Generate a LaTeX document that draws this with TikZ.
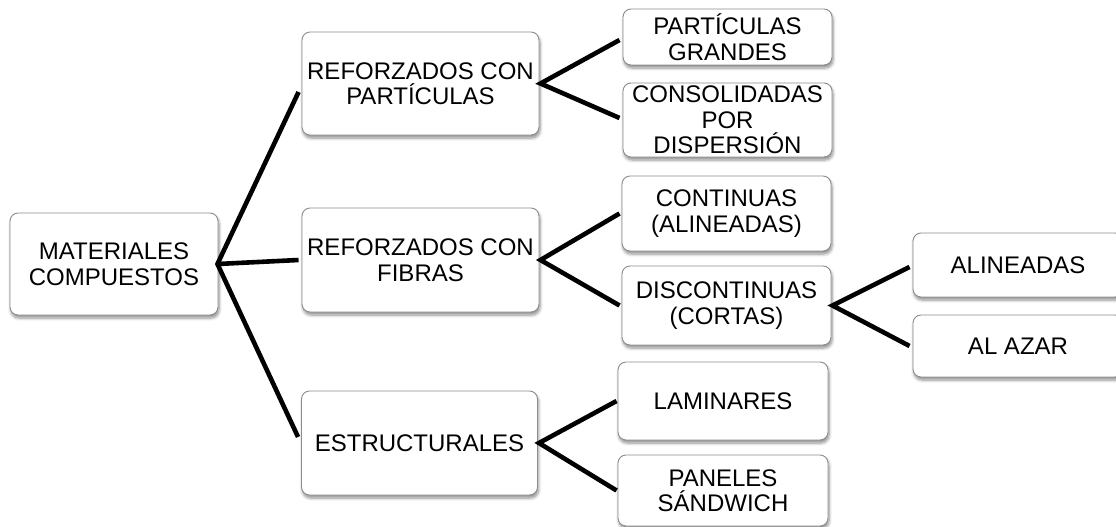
\documentclass[tikz,border=0pt]{standalone}
\usepackage{fontspec}
\setmainfont{Liberation Sans}
\usetikzlibrary{shadows.blur,calc}
\begin{document}
\begin{tikzpicture}[x=1pt,y=-1pt,
  box/.style={draw=black!45, line width=0.9pt, fill=white, rounded corners=8pt,
    align=center, inner sep=0pt, anchor=center,
    font=\fontsize{24}{25.5}\selectfont,
    blur shadow={shadow xshift=1pt, shadow yshift=-3pt, shadow blur radius=3pt, shadow blur steps=6, shadow opacity=45}},
  conn/.style={line width=4.6pt, black, line join=miter}]
\useasboundingbox (0,0) rectangle (1116,527);
\clip (0,0) rectangle (1116,527);
% level 0
\node[box, minimum width=208pt, minimum height=102pt] (b1) at (114,264) {MATERIALES\\COMPUESTOS};
% level 1
\node[box, minimum width=237pt, minimum height=103pt] (b2) at (420.5,83.5) {REFORZADOS CON\\PARTÍCULAS};
\node[box, minimum width=237pt, minimum height=104pt] (b3) at (420.5,260) {REFORZADOS CON\\FIBRAS};
\node[box, minimum width=236pt, minimum height=104pt] (b4) at (419.5,443) {ESTRUCTURALES};
% level 2
\node[box, minimum width=209pt, minimum height=56pt] (c1) at (727.5,37) {PARTÍCULAS\\GRANDES};
\node[box, minimum width=209pt, minimum height=74pt] (c2) at (727.5,120) {CONSOLIDADAS\\POR\\DISPERSIÓN};
\node[box, minimum width=209pt, minimum height=75pt] (c3) at (726.5,213.5) {CONTINUAS\\(ALINEADAS)};
\node[box, minimum width=209pt, minimum height=79pt] (c4) at (726.5,305.5) {DISCONTINUAS\\(CORTAS)};
\node[box, minimum width=210pt, minimum height=78pt] (c5) at (723,401) {LAMINARES};
\node[box, minimum width=210pt, minimum height=71pt] (c6) at (723,490.5) {PANELES\\SÁNDWICH};
% level 3
\node[box, minimum width=210pt, minimum height=64pt] (d1) at (1018,265) {ALINEADAS};
\node[box, minimum width=210pt, minimum height=62pt] (d2) at (1018,346) {AL AZAR};
% connectors
\draw[conn] ([xshift=-3pt,yshift=-8.5pt]b2.west) -- ([xshift=-1pt]b1.east) -- ([xshift=-3pt,yshift=6pt]b4.west);
\draw[conn] ([xshift=-1pt]b1.east) -- ([xshift=-3pt]b3.west);
\draw[conn] ([xshift=-3pt,yshift=-3pt]c1.west) -- ([xshift=1pt]b2.east) -- ([xshift=-3pt,yshift=2pt]c2.west);
\draw[conn] ([xshift=-2pt]c3.west) -- ([xshift=1pt]b3.east) -- ([xshift=-2pt]c4.west);
\draw[conn] ([xshift=-1pt]c5.west) -- ([xshift=1pt]b4.east) -- ([xshift=-1pt]c6.west);
\draw[conn] ([xshift=-3pt,yshift=-2pt]d1.west) -- ([xshift=1pt]c4.east) -- ([xshift=-3pt]d2.west);
\end{tikzpicture}
\end{document}
